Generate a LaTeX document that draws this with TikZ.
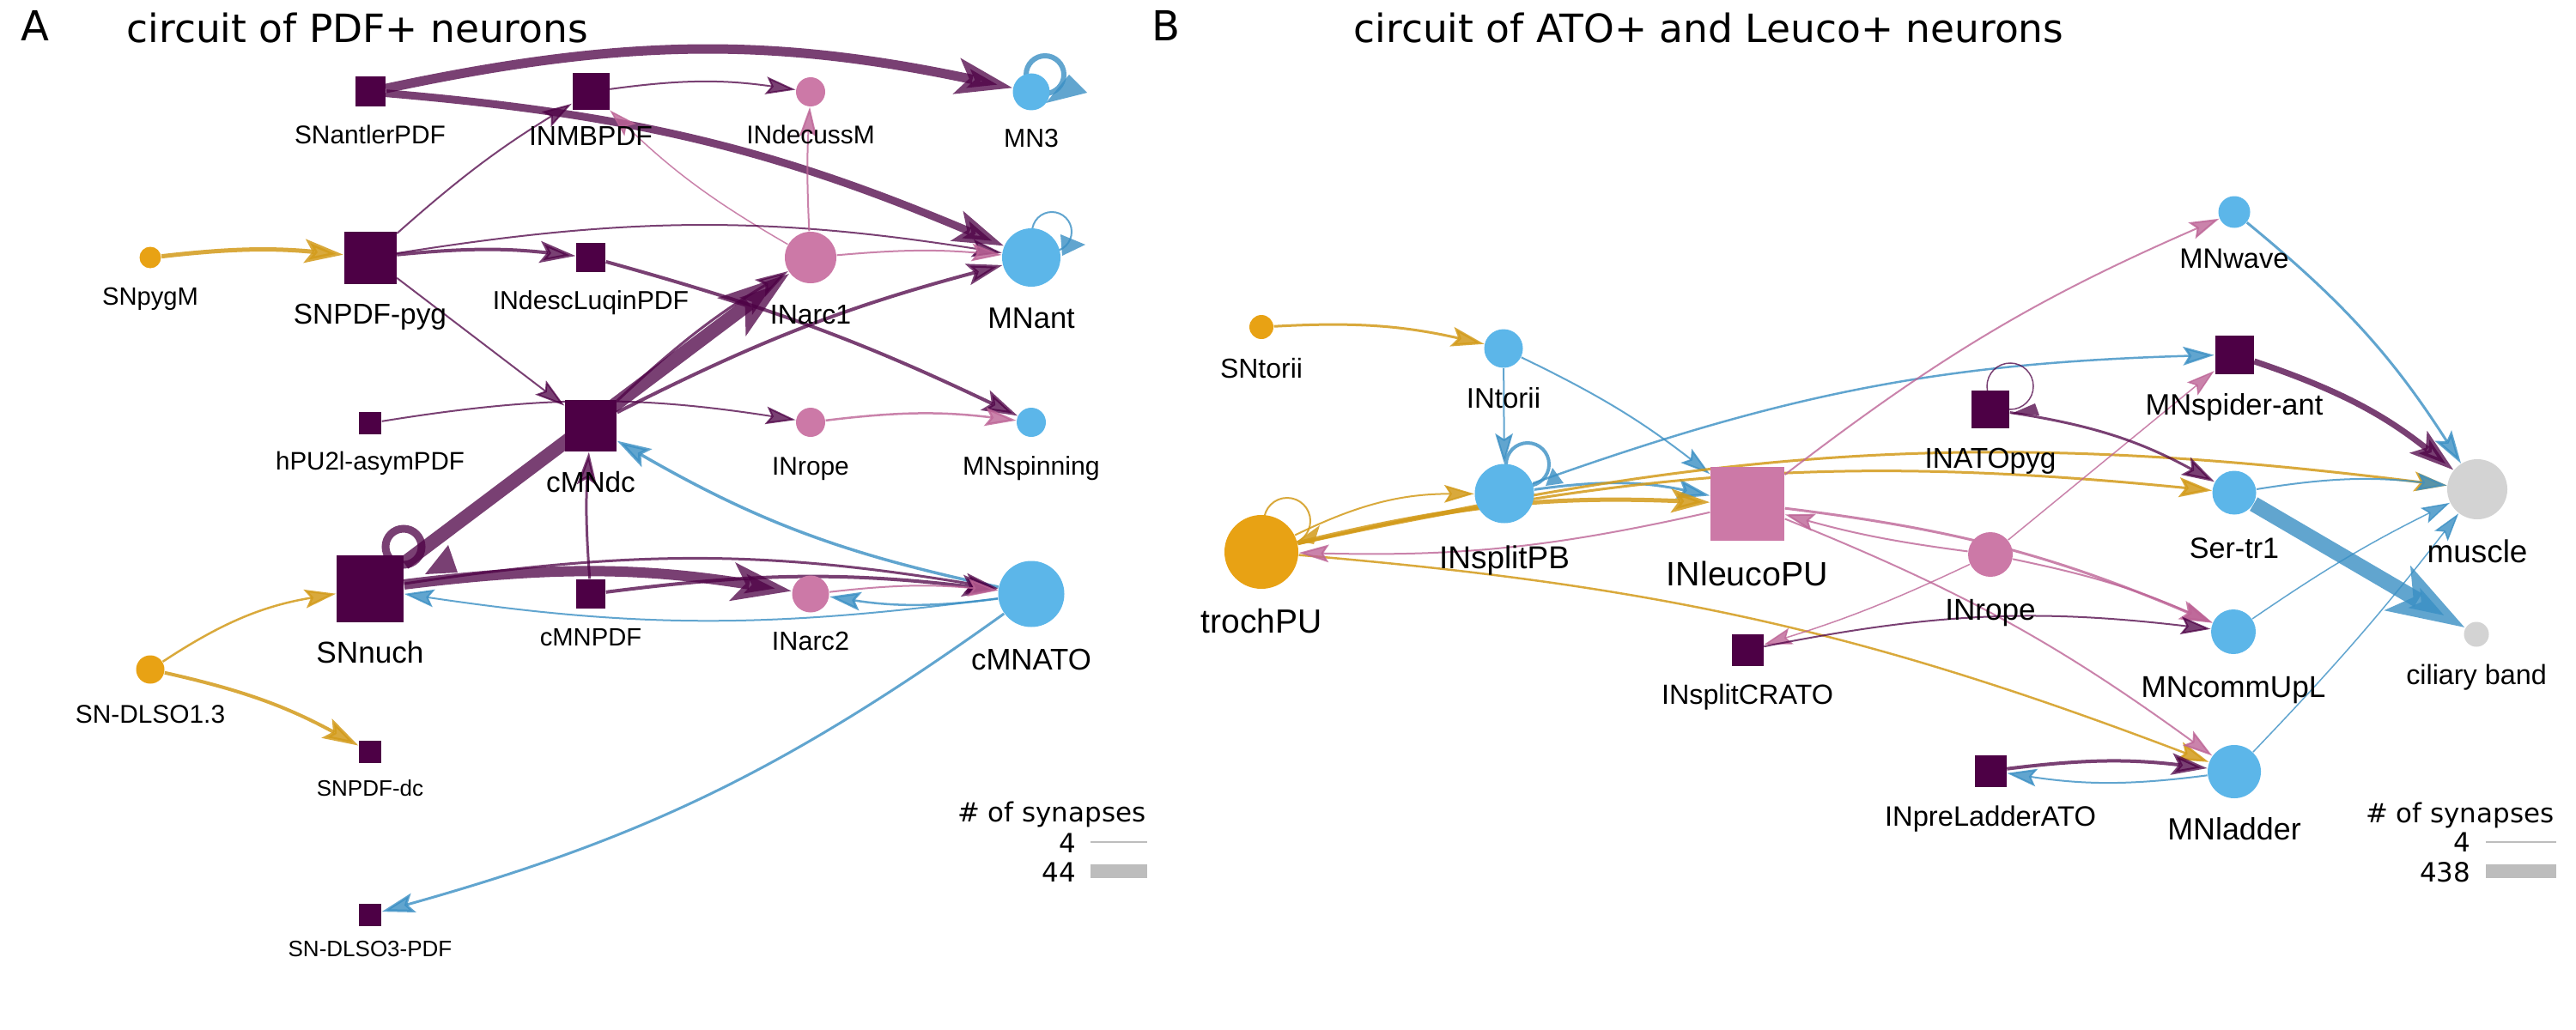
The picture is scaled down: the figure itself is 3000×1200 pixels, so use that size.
\documentclass[tikz,border=0pt]{standalone}
\usepackage{fontspec}
\newfontfamily\labfont{Liberation Sans}
\newfontfamily\djv{DejaVu Sans}
\usetikzlibrary{arrows.meta,calc}
\pgfdeclarelayer{back}
\pgfdeclarelayer{bg}
\pgfsetlayers{back,bg,main}
\definecolor{cpur}{HTML}{4D0045}
\definecolor{cpink}{HTML}{CC79A7}
\definecolor{cblue}{HTML}{5CB6E9}
\definecolor{corange}{HTML}{E8A214}
\definecolor{cgray}{HTML}{D3D3D3}
\definecolor{epur}{HTML}{4D0045}
\definecolor{epink}{HTML}{BD6496}
\definecolor{eblue}{HTML}{3A8FC4}
\definecolor{eorange}{HTML}{D39B1A}
\definecolor{leg}{HTML}{BDBDBD}
\tikzset{
  sqP/.style={rectangle, fill=cpur, minimum size=#1*0.1mm, inner sep=0},
  sqK/.style={rectangle, fill=cpink, minimum size=#1*0.1mm, inner sep=0},
  ciK/.style={circle, fill=cpink, minimum size=#1*0.1mm, inner sep=0},
  ciB/.style={circle, fill=cblue, minimum size=#1*0.1mm, inner sep=0},
  ciO/.style={circle, fill=corange, minimum size=#1*0.1mm, inner sep=0},
  ciG/.style={circle, fill=cgray, minimum size=#1*0.1mm, inner sep=0},
  ed/.style={line width=#1*0.1mm, -{Stealth[length=2.8mm 3.4, width=1.6mm 2.3, inset=0.5mm 0.8]}},
  eP/.style={ed=#1, draw=epur, opacity=.75},
  eK/.style={ed=#1, draw=epink, opacity=.8},
  eB/.style={ed=#1, draw=eblue, opacity=.8},
  eO/.style={ed=#1, draw=eorange, opacity=.85},
  lb/.style={font=\labfont\fontsize{#1}{#1}\selectfont, anchor=base, inner sep=0},
  ttl/.style={font=\djv\fontsize{12.94}{15}\selectfont, anchor=base west, inner sep=0},
  pan/.style={font=\djv\fontsize{13.7}{16}\selectfont, anchor=base west, inner sep=0},
  lgt/.style={font=\djv\fontsize{8.8}{10}\selectfont, anchor=base east, inner sep=0},
}
\begin{document}
\begin{tikzpicture}[x=0.1mm,y=0.1mm]
\begin{pgfonlayer}{back}
\fill[white] (0,0) rectangle (3000,-1200);
\end{pgfonlayer}
\useasboundingbox (0,0) rectangle (3000,-1200);

% ---------- titles ----------
\node[pan] (pA) at (24,-48) {A};
\node[ttl] (tA) at (147,-50) {circuit of PDF+ neurons};
\node[pan] (pB) at (1341,-48) {B};
\node[ttl] (tB) at (1576,-50) {circuit of ATO+ and Leuco+ neurons};

% ---------- panel A nodes ----------
\node[sqP=35] (SNantlerPDF) at (431,-107) {};
\node[sqP=43] (INMBPDF) at (688,-107) {};
\node[ciK=34] (INdecussM) at (944,-107) {};
\node[ciB=43] (MN3) at (1201,-107) {};
\node[ciO=25] (SNpygM) at (175,-300) {};
\node[sqP=61] (SNPDFpyg) at (431,-300) {};
\node[sqP=34] (INdescLuqinPDF) at (688,-300) {};
\node[ciK=60] (INarc1) at (944,-300) {};
\node[ciB=68] (MNant) at (1201,-300) {};
\node[sqP=26] (hPU2l) at (431,-493) {};
\node[sqP=60] (cMNdc) at (688,-496) {};
\node[ciK=34] (INropeA) at (944,-492) {};
\node[ciB=34] (MNspinning) at (1201,-492) {};
\node[sqP=78] (SNnuch) at (431,-686) {};
\node[sqP=34] (cMNPDF) at (688,-692) {};
\node[ciK=43] (INarc2) at (944,-692) {};
\node[ciB=77] (cMNATO) at (1201,-692) {};
\node[ciO=33] (SNDLSO13) at (175,-780) {};
\node[sqP=26] (SNPDFdc) at (431,-876) {};
\node[sqP=26] (SNDLSO3) at (431,-1066) {};

% ---------- panel A labels ----------
\node[lb=8.5] (lSNantlerPDF) at (431,-167) {SNantlerPDF};
\node[lb=9.1] (lINMBPDF) at (688,-170) {INMBPDF};
\node[lb=8.5] (lINdecussM) at (944,-168) {INdecussM};
\node[lb=8.6] (lMN3) at (1201,-172) {MN3};
\node[lb=8.3] (lSNpygM) at (175,-355) {SNpygM};
\node[lb=9.5] (lSNPDFpyg) at (431,-377) {SNPDF-pyg};
\node[lb=8.6] (lINdescLuqinPDF) at (688,-360) {INdescLuqinPDF};
\node[lb=9.1] (lINarc1) at (944,-377) {INarc1};
\node[lb=9.8] (lMNant) at (1201,-382) {MNant};
\node[lb=8.4] (lhPU2l) at (431,-547) {hPU2l-asymPDF};
\node[lb=9.5] (lcMNdc) at (688,-573) {cMNdc};
\node[lb=8.5] (lINropeA) at (944,-553) {INrope};
\node[lb=8.6] (lMNspinning) at (1201,-553) {MNspinning};
\node[lb=10] (lSNnuch) at (431,-772) {SNnuch};
\node[lb=8.3] (lcMNPDF) at (688,-752) {cMNPDF};
\node[lb=8.7] (lINarc2) at (944,-757) {INarc2};
\node[lb=9.9] (lcMNATO) at (1201,-780) {cMNATO};
\node[lb=8.5] (lSNDLSO13) at (175,-842) {SN-DLSO1.3};
\node[lb=7.4] (lSNPDFdc) at (431,-927) {SNPDF-dc};
\node[lb=7.4] (lSNDLSO3) at (431,-1114) {SN-DLSO3-PDF};

% ---------- panel B nodes ----------
\node[ciO=28] (SNtorii) at (1469,-381) {};
\node[ciB=45] (INtorii) at (1751,-406) {};
\node[ciB=69] (INsplitPB) at (1752,-575) {};
\node[ciO=86] (trochPU) at (1469,-643) {};
\node[sqK=86] (INleucoPU) at (2035,-587) {};
\node[sqP=37] (INsplitCRATO) at (2035,-757) {};
\node[ciB=37] (MNwave) at (2602,-247) {};
\node[sqP=45] (MNspiderant) at (2602,-413) {};
\node[sqP=44] (INATOpyg) at (2318,-477) {};
\node[ciB=51] (Sertr1) at (2602,-574) {};
\node[ciG=70] (muscle) at (2885,-570) {};
\node[ciK=52] (INropeB) at (2318,-646) {};
\node[ciB=52] (MNcommUpL) at (2601,-736) {};
\node[ciG=29] (ciliary) at (2884,-739) {};
\node[sqP=37] (INpreLadderATO) at (2318,-898) {};
\node[ciB=62] (MNladder) at (2602,-899) {};

% ---------- panel B labels ----------
\node[lb=9.1] (lSNtorii) at (1469,-440) {SNtorii};
\node[lb=9.4] (lINtorii) at (1751,-475) {INtorii};
\node[lb=10.5] (lINsplitPB) at (1752,-662) {INsplitPB};
\node[lb=11.1] (ltrochPU) at (1469,-737) {trochPU};
\node[lb=11.2] (lINleucoPU) at (2035,-682) {INleucoPU};
\node[lb=9.2] (lINsplitCRATO) at (2035,-820) {INsplitCRATO};
\node[lb=9.3] (lMNwave) at (2602,-312) {MNwave};
\node[lb=9.8] (lMNspiderant) at (2602,-483) {MNspider-ant};
\node[lb=9.5] (lINATOpyg) at (2318,-545) {INATOpyg};
\node[lb=9.7] (lSertr1) at (2602,-650) {Ser-tr1};
\node[lb=10.5] (lmuscle) at (2885,-655) {muscle};
\node[lb=10] (lINropeB) at (2318,-722) {INrope};
\node[lb=10] (lMNcommUpL) at (2601,-812) {MNcommUpL};
\node[lb=9.2] (lciliary) at (2884,-797) {ciliary band};
\node[lb=9.3] (lINpreLadderATO) at (2318,-962) {INpreLadderATO};
\node[lb=10.2] (lMNladder) at (2602,-978) {MNladder};

% ---------- legends ----------
\node[lgt] (lgA) at (1335,-957) {\# of synapses};
\node[lgt] (lgA4) at (1254,-993) {4};
\node[lgt] (lgA44) at (1254,-1027) {44};
\draw[leg, line width=0.2mm] (1270,-981) -- (1336,-981);
\fill[leg] (1270,-1007) rectangle (1336,-1023);
\node[lgt] (lgB) at (2975,-958) {\# of synapses};
\node[lgt] (lgB4) at (2878,-992) {4};
\node[lgt] (lgB438) at (2878,-1027) {438};
\draw[leg, line width=0.2mm] (2895,-981) -- (2977,-981);
\fill[leg] (2895,-1007) rectangle (2977,-1023);

\begin{pgfonlayer}{bg}
% ---------- panel A edges ----------
\draw[eP=11] (SNantlerPDF) to[bend left=12] (MN3);
\draw[eP=9] (SNantlerPDF) to[bend left=9] (MNant);
\draw[eP=2] (INMBPDF) to[bend left=8] (INdecussM);
\draw[eK=1.5] (INarc1) to[bend left=7] (INMBPDF);
\draw[eP=2] (SNPDFpyg) to[bend left=5] (INMBPDF);
\draw[eP=4] (SNPDFpyg) to[bend left=6] (INdescLuqinPDF);
\draw[eP=2] (SNPDFpyg) to[bend left=9] (MNant);
\draw[eP=2] (SNPDFpyg) -- (cMNdc);
\draw[eP=4] (INdescLuqinPDF) to[bend left=5] (MNspinning);
\draw[eK=2] (INarc1) to[bend left=3] (INdecussM);
\draw[eK=2] (INarc1) to[bend left=5] (MNant);
\draw[eP=16] (SNnuch) -- (INarc1);
\draw[eP=3] (cMNdc) to[bend left=6] (INarc1);
\draw[eP=4] (cMNdc) to[bend left=6] (MNant);
\draw[eP=2] (hPU2l) to[bend left=9] (INropeA);
\draw[eK=2.5] (INropeA) to[bend left=7] (MNspinning);
\draw[eP=3] (cMNPDF) to[bend left=4] (cMNdc);
\draw[eB=3.5] (cMNATO) to[bend left=9] (cMNdc);
\draw[eB=3] (cMNATO) to[bend left=10] (SNDLSO3);
\draw[eP=12] (SNnuch) to[bend left=8] (INarc2);
\draw[eP=3] (SNnuch) to[bend left=9] (cMNATO);
\draw[eP=4] (cMNPDF) to[bend left=7] (cMNATO);
\draw[eK=2] (INarc2) to[bend left=6] (cMNATO);
\draw[eB=2.5] (cMNATO) to[bend left=8] (INarc2);
\draw[eB=2] (cMNATO) to[bend left=8] (SNnuch);
\draw[eO=5] (SNpygM) to[bend left=6] (SNPDFpyg);
\draw[eO=2.5] (SNDLSO13) to[bend left=12] (SNnuch);
\draw[eO=4] (SNDLSO13) to[bend left=8] (SNPDFdc);
% self loops A
\begin{scope}[shift={(MN3.center)}]
  \draw[eblue, opacity=.8, line width=0.6mm] (16,20) circle[radius=22];
  \fill[eblue, opacity=.8] (65,-1) -- (44,20) -- (17,-13) -- cycle;
\end{scope}
\begin{scope}[shift={(MNant.center)}]
  \draw[eblue, opacity=.8, line width=0.2mm] (24,30) circle[radius=23];
  \fill[eblue, opacity=.8] (63,15) -- (34,27) -- (36,2) -- cycle;
\end{scope}
\begin{scope}[shift={(SNnuch.center)}]
  \draw[epur, opacity=.75, line width=0.9mm] (39,49) circle[radius=21];
  \fill[epur, opacity=.75] (91,51) -- (102,19) -- (64,17) -- cycle;
\end{scope}

% ---------- panel B edges ----------
\draw[eO=3] (SNtorii) to[bend left=8] (INtorii);
\draw[eB=2] (INtorii) -- (INsplitPB);
\draw[eB=2] (INtorii) to[bend left=6] (INleucoPU);
\draw[eB=3] (INsplitPB) to[bend left=10] (INleucoPU);
\draw[eB=2.5] (INsplitPB) to[bend left=9] (MNspiderant);
\draw[eO=2] (trochPU) to[bend left=13] (INsplitPB);
\draw[eO=5] (trochPU) to[bend left=8] (INleucoPU);
\draw[eO=3] (trochPU) to[bend left=9] (Sertr1);
\draw[eO=3] (trochPU) to[bend left=10] (muscle);
\draw[eO=2.5] (trochPU) to[bend left=8] (MNladder);
\draw[eK=2] (INleucoPU) to[bend left=7] (trochPU);
\draw[eK=2] (INleucoPU) to[bend left=7] (MNwave);
\draw[eK=3] (INleucoPU) to[bend left=8] (MNcommUpL);
\draw[eK=2] (INleucoPU) to[bend left=7] (MNladder);
\draw[eK=2] (INropeB) to[bend left=4] (INleucoPU);
\draw[eK=2] (INropeB) to[bend left=6] (MNcommUpL);
\draw[eK=1.5] (INropeB) -- (MNspiderant);
\draw[eK=1.5] (INropeB) to[bend left=4] (INsplitCRATO);
\draw[eP=2] (INsplitCRATO) to[bend left=9] (MNcommUpL);
\draw[eP=3] (INATOpyg) to[bend left=10] (Sertr1);
\draw[eB=3] (MNwave) to[bend left=9] (muscle);
\draw[eP=7] (MNspiderant) to[bend left=10] (muscle);
\draw[eB=2] (Sertr1) to[bend left=8] (muscle);
\draw[eB=18] (Sertr1) -- (ciliary);
\draw[eB=1.5] (MNcommUpL) to[bend left=4] (muscle);
\draw[eB=1.5] (MNladder) to[bend right=3] (muscle);
\draw[eP=4] (INpreLadderATO) to[bend left=7] (MNladder);
\draw[eB=2] (MNladder) to[bend left=8] (INpreLadderATO);
% self loops B
\begin{scope}[shift={(trochPU.center)}]
  \draw[eorange, opacity=.85, line width=0.2mm] (30,36) circle[radius=27];
  \fill[eorange, opacity=.85] (43,13) -- (68,31) -- (61,9) -- cycle;
\end{scope}
\begin{scope}[shift={(INsplitPB.center)}]
  \draw[eblue, opacity=.8, line width=0.4mm] (27,34) circle[radius=25];
  \fill[eblue, opacity=.8] (69,12) -- (56,30) -- (48,9) -- cycle;
\end{scope}
\begin{scope}[shift={(INATOpyg.center)}]
  \draw[epur, opacity=.75, line width=0.15mm] (23,27) circle[radius=27];
  \fill[epur, opacity=.75] (24,-5) -- (52,7) -- (57,-7) -- cycle;
\end{scope}
\end{pgfonlayer}
\end{tikzpicture}
\end{document}
